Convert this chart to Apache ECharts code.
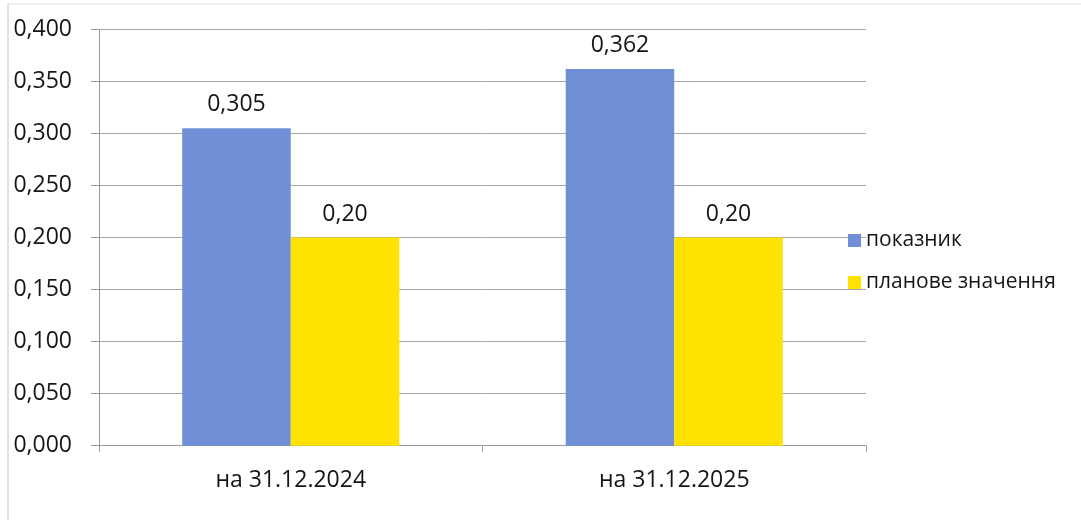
<!DOCTYPE html>
<html>
<head>
<meta charset="utf-8">
<script src="https://cdn.jsdelivr.net/npm/echarts@6/dist/echarts.min.js"></script>
<style>
html,body{margin:0;padding:0;background:#fff;}
#c{width:1081px;height:520px;}
</style>
</head>
<body>
<div id="c"></div>
<script>
const categories = ['на 31.12.2024', 'на 31.12.2025'];
const seriesNames = ['показник', 'планове значення'];
const indicatorValues = [0.305, 0.362];
const plannedValues = [0.20, 0.20];
const yTickMin = 0, yTickMax = 0.4, yTickStep = 0.05;

const FONT = '"Open Sans", sans-serif';
const TXT = '#151515';
const fmt = (v, d) => v.toFixed(d).replace('.', ',');

const chart = echarts.init(document.getElementById('c'));
chart.setOption({
  animation: false,
  backgroundColor: '#fff',
  textStyle: { fontFamily: FONT },
  grid: { left: 99, top: 29.5, right: 215, bottom: 74.3, containLabel: false },
  legend: {
    orient: 'vertical',
    left: 843,
    top: 225,
    itemWidth: 13,
    itemHeight: 13,
    itemGap: 21,
    icon: 'rect',
    textStyle: { fontFamily: FONT, fontSize: 21, color: TXT, padding: [0, 0, 0, 0] },
    data: seriesNames
  },
  xAxis: {
    type: 'category',
    data: categories,
    axisLine: { lineStyle: { color: '#9a9a9a', width: 1 } },
    axisTick: { show: true, length: 6, lineStyle: { color: '#9a9a9a' } },
    axisLabel: { fontFamily: FONT, fontSize: 23, color: TXT, margin: 23 }
  },
  yAxis: {
    type: 'value',
    min: yTickMin,
    max: yTickMax,
    interval: yTickStep,
    axisLine: { show: true, lineStyle: { color: '#9a9a9a', width: 1 } },
    axisTick: { show: true, length: 8, lineStyle: { color: '#9a9a9a' } },
    splitLine: { show: true, lineStyle: { color: '#a8a8a8', width: 1 } },
    axisLabel: { fontFamily: FONT, fontSize: 23, color: TXT, margin: 27, formatter: v => fmt(v, 3) }
  },
  series: [
    {
      name: seriesNames[0],
      type: 'bar',
      data: indicatorValues,
      barWidth: '28.3%',
      barGap: '0%',
      itemStyle: { color: '#6F8FD6' },
      label: { show: true, position: 'top', distance: 12, fontFamily: FONT, fontSize: 23, color: TXT, formatter: p => fmt(p.value, 3) }
    },
    {
      name: seriesNames[1],
      type: 'bar',
      data: plannedValues,
      barWidth: '28.3%',
      barGap: '0%',
      itemStyle: { color: '#FFE200' },
      label: { show: true, position: 'top', distance: 12, fontFamily: FONT, fontSize: 23, color: TXT, formatter: p => fmt(p.value, 2) }
    }
  ],
  graphic: [
    { type: 'line', shape: { x1: 8, y1: 4, x2: 8, y2: 520 }, style: { stroke: '#c4c4c4', lineWidth: 1 } },
    { type: 'line', shape: { x1: 8, y1: 4, x2: 1081, y2: 4 }, style: { stroke: '#e2e2e2', lineWidth: 1 } }
  ]
});
</script>
</body>
</html>
